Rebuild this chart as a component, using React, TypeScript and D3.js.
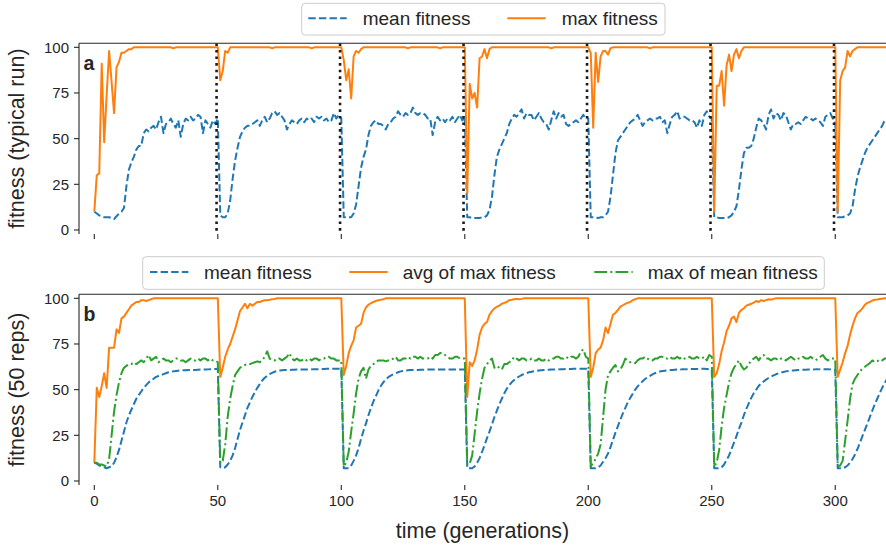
import React from "react";
import * as d3 from "d3";

// Panel a: a single typical run, one value per generation (0..321)
const typicalMean = [
  10, 9, 8, 7.5, 7, 7, 7, 6.5, 6, 7.5,
  9, 10, 12, 24, 33, 37, 40, 44, 46, 46,
  53, 55, 54, 56, 57, 55, 59, 62, 53, 58,
  59, 61, 58, 56, 60, 51, 58, 61, 60, 62,
  60, 61, 63, 62, 53, 60, 58, 56, 60, 58,
  61, 8, 7, 7, 9, 16, 28, 38, 45, 51,
  54, 56, 57, 57, 58, 59, 60, 57, 60, 62,
  59, 61, 64, 65, 63, 64, 62, 60, 55, 58,
  60, 59, 58, 60, 61, 59, 61, 60, 61, 59,
  62, 61, 62, 60, 61, 59, 60, 64, 61, 63,
  61, 7, 7, 7, 7, 9, 14, 24, 34, 40,
  44, 52, 57, 59, 60, 58, 58, 57, 55, 58,
  59, 61, 62, 65, 63, 62, 64, 63, 64, 67,
  64, 63, 64, 64, 63, 61, 61, 52, 59, 62,
  60, 61, 59, 61, 60, 62, 59, 61, 63, 60,
  62, 7, 7, 6.5, 6.5, 6.5, 6.5, 7, 7, 8,
  11, 18, 30, 40, 44, 47, 50, 53, 58, 61,
  63, 62, 64, 66, 61, 64, 63, 63, 60, 62,
  64, 61, 59, 58, 55, 60, 65, 61, 64, 62,
  63, 58, 57, 58, 59, 60, 59, 61, 63, 61,
  61, 7, 7, 7, 6.5, 7, 7, 8, 10, 18,
  30, 42, 49, 51, 53, 55, 57, 59, 60, 61,
  63, 60, 57, 59, 60, 61, 60, 61, 61, 62,
  59, 60, 53, 58, 62, 63, 65, 61, 62, 62,
  61, 60, 60, 59, 56, 60, 57, 63, 65, 62,
  61, 7, 7, 6.5, 6.5, 6.5, 6.5, 7, 8, 10,
  13, 22, 33, 42, 45, 45, 46, 50, 56, 61,
  60, 58, 55, 63, 66, 61, 64, 63, 60, 64,
  63, 59, 55, 58, 58, 59, 58, 60, 62, 61,
  61, 60, 61, 60, 59, 57, 62, 63, 64, 61,
  60, 7, 7, 7, 7.5, 8, 9, 13, 22, 29,
  34, 38, 42, 45, 47, 49, 51, 53, 55, 57,
  60, 61,
];

const typicalMax = [
  10, 30, 31, 91, 48, 74, 98, 81, 64, 89,
  92, 97, 97, 98, 99, 99, 100, 100, 100, 100,
  100, 100, 100, 100, 100, 100, 100, 100, 100, 100,
  100, 100, 99.5, 100, 100, 100, 100, 100, 100, 100,
  100, 100, 100, 100, 100, 100, 100, 100, 100, 100,
  100, 82, 87, 98, 97, 100, 100, 100, 100, 100,
  100, 100, 100, 100, 100, 100, 100, 100, 100, 100,
  100, 100, 99.5, 100, 100, 100, 100, 100, 100, 100,
  100, 100, 100, 100, 100, 100, 100, 100, 99.5, 100,
  100, 100, 100, 100, 100, 100, 100, 100, 100, 100,
  100, 93, 82, 88, 72, 95, 98, 97, 99, 100,
  100, 100, 100, 100, 100, 100, 100, 100, 100, 100,
  100, 100, 100, 100, 100, 100, 100, 99.5, 100, 100,
  100, 100, 100, 100, 100, 100, 100, 100, 100, 100,
  99.5, 100, 100, 100, 100, 100, 100, 100, 100, 100,
  100, 20, 80, 72, 75, 67, 94, 95, 99, 94,
  99, 100, 100, 100, 100, 100, 100, 100, 100, 100,
  100, 100, 100, 100, 100, 100, 100, 100, 100, 100,
  100, 100, 100, 100, 100, 99.5, 100, 100, 100, 100,
  100, 100, 100, 100, 100, 100, 100, 100, 100, 100,
  100, 97, 56, 97, 81, 95, 98, 98, 96, 99.5,
  100, 100, 100, 100, 100, 100, 100, 100, 100, 100,
  100, 100, 100, 100, 100, 99.5, 100, 100, 100, 100,
  100, 100, 100, 100, 100, 100, 100, 100, 100, 100,
  100, 100, 100, 100, 100, 100, 100, 100, 100, 100,
  100, 10, 79, 79, 87, 68, 90, 96, 87, 96,
  99, 94, 98, 100, 100, 100, 100, 100, 100, 100,
  100, 100, 100, 100, 100, 100, 100, 100, 100, 100,
  100, 100, 100, 100, 100, 100, 100, 100, 100, 100,
  100, 100, 100, 100, 100, 100, 100, 100, 100, 100,
  100, 10, 82, 87, 89, 98, 95, 98, 99, 100,
  100, 100, 100, 100, 100, 100, 100, 100, 100, 100,
  100, 100,
];

// Panel b: statistics over 50 replicate runs
const repMean = [
  10, 9.5, 8.5, 8, 7.5, 7, 7.5, 8, 10, 13,
  17, 22, 27, 32, 36, 39, 42, 45, 47, 49,
  51, 52.5, 54, 55, 56, 57, 57.5, 58, 58.5, 59,
  59.5, 59.8, 60, 60.2, 60.4, 60.5, 60.6, 60.6, 60.7, 60.7,
  60.8, 60.8, 60.9, 61, 61, 61, 61.1, 61.2, 61.2, 61.3,
  61.4, 7.5, 7, 7.5, 9, 11, 14, 18, 23, 28,
  32, 36, 40, 43, 46, 48.5, 51, 53, 55, 56.5,
  57.5, 58.5, 59.2, 59.8, 60.2, 60.5, 60.6, 60.7, 60.8, 60.8,
  60.9, 60.9, 61, 61, 61, 61, 61, 61.1, 61.1, 61.2,
  61.2, 61.2, 61.3, 61.3, 61.4, 61.4, 61.4, 61.5, 61.5, 61.5,
  61.5, 7, 7, 7, 8.5, 11, 14, 18, 23, 27.5,
  31.5, 36, 40, 43.5, 46.5, 49.5, 52, 54, 55.5, 56.8,
  57.7, 58.4, 59, 59.5, 60, 60.2, 60.4, 60.6, 60.7, 60.8,
  60.8, 60.8, 60.9, 60.9, 60.9, 61, 61, 61, 61, 61,
  61, 61, 61, 61, 61, 61, 61, 61, 61, 61,
  61, 7, 7, 7, 8, 10, 12.5, 16, 19.5, 23.5,
  27, 31, 35, 38.5, 42, 45, 48, 50.5, 52.5, 54,
  55.3, 56.3, 57.2, 58, 58.6, 59.1, 59.5, 59.8, 60.1, 60.3,
  60.5, 60.6, 60.7, 60.8, 60.9, 61, 61, 61.1, 61.1, 61.2,
  61.2, 61.3, 61.3, 61.3, 61.4, 61.4, 61.4, 61.5, 61.5, 61.5,
  61.5, 7, 7, 7, 7.5, 8.5, 10.5, 12.5, 15, 18.5,
  22.5, 26.5, 30, 33.5, 37, 40, 43, 45.5, 47.8, 50,
  51.8, 53.2, 54.6, 55.8, 56.8, 57.6, 58.4, 59, 59.5, 59.9,
  60.2, 60.4, 60.6, 60.7, 60.8, 60.9, 61, 61, 61.1, 61.1,
  61.2, 61.2, 61.3, 61.3, 61.3, 61.4, 61.4, 61.4, 61.3, 61.2,
  61, 7, 7, 7, 7.5, 9, 11.5, 14, 17.5, 21,
  24.5, 28.5, 32, 36, 39.5, 42.5, 45.5, 48, 50, 52,
  53.5, 54.5, 55.5, 56.4, 57.1, 57.8, 58.4, 58.9, 59.3, 59.7,
  60, 60.2, 60.4, 60.5, 60.6, 60.7, 60.8, 60.9, 60.9, 61,
  61, 61, 61.1, 61.1, 61.2, 61.2, 61.2, 61.2, 61.1, 61,
  60.9, 7, 7, 7, 7.5, 8.5, 10, 12, 14.5, 17.5,
  21, 24.5, 28, 31.5, 35, 38.5, 42, 45, 48, 51,
  53.5, 56,
];

const repAvgMax = [
  10, 51, 46, 52, 59, 51, 73, 73, 73, 83,
  81, 89, 90, 92, 94, 96, 97, 98, 98, 99,
  99, 98.5, 99, 99.5, 100, 100, 100, 100, 100, 100,
  100, 100, 100, 100, 100, 100, 100, 100, 100, 100,
  100, 100, 100, 100, 100, 100, 100, 100, 100, 100,
  100, 57, 62, 68, 72, 75, 79, 83, 88, 93,
  95, 97, 94.5, 97, 96, 97, 98, 98, 98.5, 99,
  99, 99.2, 99.5, 99.6, 100, 100, 100, 100, 100, 100,
  100, 100, 100, 100, 100, 100, 100, 100, 100, 100,
  100, 100, 100, 100, 100, 100, 100, 100, 100, 100,
  100, 58, 63, 70, 74, 77, 84, 85, 86, 92,
  95, 96.5, 97.3, 98, 98.5, 99, 99.2, 99.5, 100, 100,
  100, 100, 100, 100, 100, 100, 100, 100, 100, 100,
  100, 100, 100, 100, 100, 100, 100, 100, 100, 100,
  100, 100, 100, 100, 100, 100, 100, 100, 100, 100,
  100, 46, 65, 63, 66, 72, 80, 84, 86, 87,
  91, 93, 94.5, 95.4, 96, 97, 97.5, 98, 99, 99.2,
  99.5, 99.7, 99.5, 99.7, 100, 100, 100, 100, 100, 100,
  100, 100, 100, 100, 100, 100, 100, 100, 100, 100,
  100, 100, 100, 100, 100, 100, 100, 100, 100, 100,
  100, 57, 62, 70, 72, 73, 77, 84, 81, 86,
  91, 92, 93.6, 95.4, 96.2, 97, 97.6, 98, 99, 99.5,
  100, 100, 100, 100, 100, 100, 100, 100, 100, 100,
  100, 100, 100, 100, 100, 100, 100, 100, 100, 100,
  100, 100, 100, 100, 100, 100, 100, 100, 100, 100,
  100, 57, 59, 64, 71, 76, 82, 85, 89, 90,
  87, 92, 93.6, 94.5, 96, 96.5, 97, 97.6, 98.5, 98,
  99, 98.5, 99, 99.5, 99.2, 99.7, 100, 100, 100, 100,
  100, 100, 100, 100, 100, 100, 100, 100, 100, 100,
  100, 100, 100, 100, 100, 100, 100, 100, 100, 100,
  100, 57, 61, 65, 70, 74, 80, 85, 89, 92,
  93, 94.5, 96.5, 97.5, 98, 98.8, 99.2, 99.3, 99.6, 99.8,
  100, 100,
];

const repMaxMean = [
  10, 10, 9, 9, 8.5, 8, 12, 25, 38, 47,
  54, 59, 62, 63, 64, 64, 65, 64, 65, 66,
  65, 67, 69, 66, 67, 68, 65, 66, 67, 66,
  66, 65, 66, 67, 67, 66, 66, 65, 66, 67,
  66, 66, 67, 66, 67, 67, 66, 67, 66, 66,
  65, 9.7, 11, 20, 35, 45, 52, 58, 60, 62,
  63, 63.5, 64, 64, 64.5, 65, 65.5, 65, 66, 68,
  71, 67, 66, 66, 67, 67, 66, 67, 68, 70,
  67, 66, 67, 66, 66, 67, 66, 67, 66, 67,
  67, 66, 67, 67, 68, 68, 67, 67, 66, 66,
  66, 8, 10, 16, 27, 37, 48, 56, 60, 62,
  56, 61, 63, 64, 65, 66, 66, 66, 65.5, 66,
  66, 67, 68, 66, 66, 67, 67, 68, 67, 68,
  68, 67, 68, 67, 67, 67, 68, 67, 69, 69,
  70, 70, 69, 68, 67, 67, 68, 68, 67, 67,
  67, 9, 9.5, 14, 26, 38, 48, 56, 62, 64,
  66, 67, 62, 63, 62, 61, 64, 64, 65, 66,
  68, 67, 66, 67, 67, 66, 66, 67, 66, 66,
  67, 66, 66, 67, 66, 67, 67, 68, 68, 67,
  67, 68, 67, 68, 68, 67, 68, 71, 72, 68,
  67, 8, 10, 12, 15, 20, 35, 50, 58, 60,
  62, 63.5, 60, 61, 63.5, 67, 66, 65, 65, 64.5,
  66, 67, 67, 68, 67, 66, 66, 67, 67, 68,
  68, 67, 67, 68, 67, 67, 68, 67, 68, 67,
  67, 68, 67, 67, 68, 67, 67, 68, 66, 69,
  68, 8, 10, 17, 30, 40, 47, 54, 59, 62,
  64, 66, 63, 61, 62, 64, 66, 67, 68, 66,
  68, 69, 67, 67, 66, 67, 67, 66, 67, 67,
  66, 67, 68, 67, 66, 67, 67, 68, 67, 67,
  68, 67, 66, 67, 68, 69, 67, 66, 67, 67,
  67, 8, 8.5, 11, 22, 33, 45, 53, 56, 58,
  60, 61.5, 62.5, 63.5, 64.5, 66, 65, 65.5, 66.5, 66,
  67, 67,
];

// Generations at which the environment changes (dotted markers in panel a)
const changePoints = [49.5, 99.5, 149.5, 199.5, 249.5, 299.5];

const xTicks = [0, 50, 100, 150, 200, 250, 300];
const yTicks = [0, 25, 50, 75, 100];

const topLegendLabels = ["mean fitness", "max fitness"];
const bottomLegendLabels = ["mean fitness", "avg of max fitness", "max of mean fitness"];

const FONT = "'Liberation Sans', Arial, Helvetica, sans-serif";
const INK = "#262626";
const BLUE = "#1f77b4";
const ORANGE = "#ff7f0e";
const GREEN = "#2ca02c";
const DASHED = "7.4 3.2";
const DASHDOT = "12.8 3.2 2 3.2";

const W = 886;
const H = 546;
const LEFT = 79;
const RIGHT = 886;

const x = d3.scaleLinear().domain([-6.2, 320.55]).range([LEFT, RIGHT]);

type Series = { values: number[]; color: string; dash?: string };

function makeY(top: number, bottom: number) {
  return d3.scaleLinear().domain([-2.2, 102.2]).range([bottom, top]);
}

function Axes({
  id,
  top,
  bottom,
  series,
  label,
  letter,
  showXLabels,
  markers,
}: {
  id: string;
  top: number;
  bottom: number;
  series: Series[];
  label: string;
  letter: string;
  showXLabels: boolean;
  markers?: number[];
}) {
  const y = makeY(top, bottom);
  const line = d3
    .line<number>()
    .x((_, i) => x(i))
    .y((d) => y(d));
  return (
    <g>
      <defs>
        <clipPath id={id}>
          <rect x={LEFT} y={top} width={RIGHT - LEFT} height={bottom - top} />
        </clipPath>
      </defs>
      <g clipPath={`url(#${id})`}>
        {series.map((s, k) => (
          <path
            key={k}
            d={line(s.values) || ""}
            fill="none"
            stroke={s.color}
            strokeWidth={2}
            strokeDasharray={s.dash}
            strokeLinejoin="round"
          />
        ))}
        {(markers || []).map((m) => (
          <line
            key={m}
            x1={x(m)}
            x2={x(m)}
            y1={top}
            y2={bottom}
            stroke="#1a1a1a"
            strokeWidth={2.6}
            strokeDasharray="2.6 4"
          />
        ))}
      </g>
      {/* spines: left and top */}
      <line x1={LEFT} x2={LEFT} y1={top} y2={bottom} stroke={INK} strokeWidth={1.1} />
      <line x1={LEFT} x2={RIGHT} y1={top} y2={top} stroke={INK} strokeWidth={1.1} />
      {yTicks.map((t) => (
        <g key={t}>
          <line x1={LEFT - 5} x2={LEFT} y1={y(t)} y2={y(t)} stroke={INK} strokeWidth={1.1} />
          <text
            x={LEFT - 10}
            y={y(t) + 5.2}
            textAnchor="end"
            fontSize={15}
            fill={INK}
            fontFamily={FONT}
          >
            {t}
          </text>
        </g>
      ))}
      {xTicks.map((t) => (
        <g key={t}>
          <line x1={x(t)} x2={x(t)} y1={bottom} y2={bottom + 5} stroke={INK} strokeWidth={1.1} />
          {showXLabels && (
            <text
              x={x(t)}
              y={bottom + 21}
              textAnchor="middle"
              fontSize={15}
              fill={INK}
              fontFamily={FONT}
            >
              {t}
            </text>
          )}
        </g>
      ))}
      <text
        transform={`translate(23.5, ${(top + bottom) / 2}) rotate(-90)`}
        textAnchor="middle"
        fontSize={21.5}
        fill={INK}
        fontFamily={FONT}
      >
        {label}
      </text>
      <text
        x={LEFT + 4.5}
        y={top + 27}
        fontSize={19.5}
        fontWeight="bold"
        fill={INK}
        fontFamily={FONT}
      >
        {letter}
      </text>
    </g>
  );
}

type LegendItem = { label: string; color: string; dash?: string; handleX: number; textX: number };

function Legend({
  x0,
  y0,
  w,
  h,
  items,
}: {
  x0: number;
  y0: number;
  w: number;
  h: number;
  items: LegendItem[];
}) {
  const cy = y0 + h / 2;
  return (
    <g>
      <rect
        x={x0}
        y={y0}
        width={w}
        height={h}
        rx={3.5}
        fill="#ffffff"
        fillOpacity={0.8}
        stroke="#cccccc"
        strokeWidth={1}
      />
      {items.map((it) => (
        <g key={it.label}>
          <line
            x1={it.handleX}
            x2={it.handleX + 38.4}
            y1={cy - 1}
            y2={cy - 1}
            stroke={it.color}
            strokeWidth={2}
            strokeDasharray={it.dash}
          />
          <text x={it.textX} y={cy + 6.2} fontSize={19} fill={INK} fontFamily={FONT}>
            {it.label}
          </text>
        </g>
      ))}
    </g>
  );
}

export default function App() {
  return (
    <svg
      width={W}
      height={H}
      viewBox={`0 0 ${W} ${H}`}
      style={{ position: "absolute", left: 0, top: 0, background: "#ffffff" }}
    >
      <rect width={W} height={H} fill="#ffffff" />
      <Axes
        id="clip-a"
        top={43.3}
        bottom={234}
        label="fitness (typical run)"
        letter="a"
        showXLabels={false}
        markers={changePoints}
        series={[
          { values: typicalMean, color: BLUE, dash: DASHED },
          { values: typicalMax, color: ORANGE },
        ]}
      />
      <Axes
        id="clip-b"
        top={294.3}
        bottom={485}
        label="fitness (50 reps)"
        letter="b"
        showXLabels={true}
        series={[
          { values: repMean, color: BLUE, dash: DASHED },
          { values: repAvgMax, color: ORANGE },
          { values: repMaxMean, color: GREEN, dash: DASHDOT },
        ]}
      />
      <Legend
        x0={301.7}
        y0={3.3}
        w={363.3}
        h={31.7}
        items={[
          { label: topLegendLabels[0], color: BLUE, dash: DASHED, handleX: 308.3, textX: 362.7 },
          { label: topLegendLabels[1], color: ORANGE, handleX: 507.3, textX: 561.7 },
        ]}
      />
      <Legend
        x0={142.7}
        y0={256.7}
        w={681.6}
        h={32.6}
        items={[
          { label: bottomLegendLabels[0], color: BLUE, dash: DASHED, handleX: 150, textX: 204 },
          { label: bottomLegendLabels[1], color: ORANGE, handleX: 349.3, textX: 402.7 },
          { label: bottomLegendLabels[2], color: GREEN, dash: DASHDOT, handleX: 594.3, textX: 647.7 },
        ]}
      />
      <text
        x={(LEFT + RIGHT) / 2}
        y={538}
        textAnchor="middle"
        fontSize={21.5}
        fill={INK}
        fontFamily={FONT}
      >
        time (generations)
      </text>
    </svg>
  );
}
